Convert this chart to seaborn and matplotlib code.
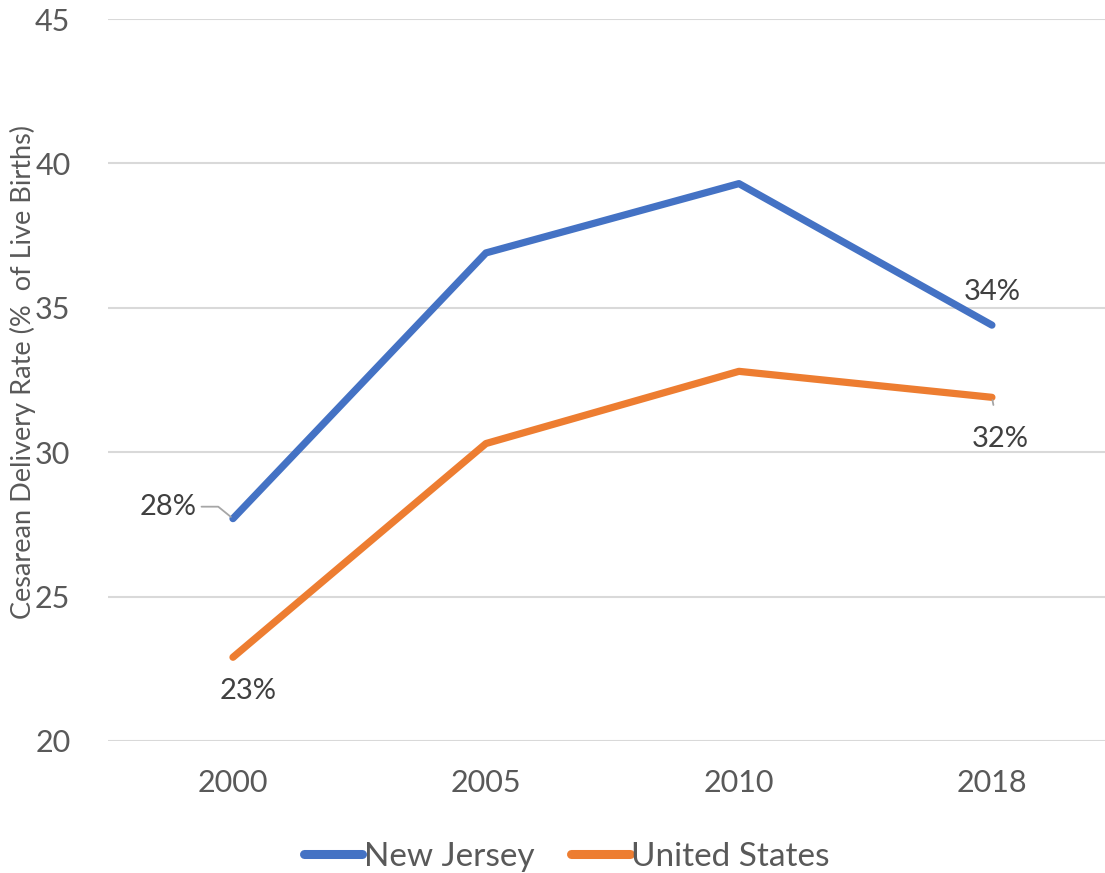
import matplotlib
matplotlib.use("Agg")
import matplotlib.pyplot as plt
import seaborn as sns
import pandas as pd

# Cesarean delivery rates, % of live births
years = ["2000", "2005", "2010", "2018"]
new_jersey = [27.7, 36.9, 39.3, 34.4]
united_states = [22.9, 30.3, 32.8, 31.9]
series_names = ["New Jersey", "United States"]
series_colors = ["#4472C4", "#ED7D31"]

df = pd.DataFrame({
    "Year": years * 2,
    "Rate": new_jersey + united_states,
    "Region": [series_names[0]] * len(years) + [series_names[1]] * len(years),
})

sns.set_theme(style="white")
plt.rcParams["font.family"] = ["Lato", "DejaVu Sans"]

fig = plt.figure(figsize=(11.05, 8.73), dpi=100)
ax = fig.add_axes([108 / 1105, 132 / 873, 997 / 1105, 722 / 873])

sns.lineplot(data=df, x="Year", y="Rate", hue="Region",
             palette=dict(zip(series_names, series_colors)),
             linewidth=5.2, ax=ax, sort=False,
             solid_capstyle="round", solid_joinstyle="round", legend=True)

ax.set_ylim(20, 45)
ax.set_yticks(range(20, 46, 5))
ax.set_xlim(-0.494, 3.447)
ax.yaxis.grid(True, color="#D9D9D9", linewidth=1.5)
ax.xaxis.grid(False)
ax.set_axisbelow(True)
for s in ax.spines.values():
    s.set_visible(False)
ax.tick_params(axis="both", length=0, labelsize=22, colors="#595959")
ax.tick_params(axis="y", pad=27)
ax.tick_params(axis="x", pad=20)
ax.set_xlabel("")
ax.set_ylabel("Cesarean Delivery Rate (%  of Live Births)", fontsize=19.5,
              color="#595959", va="center")
ax.yaxis.set_label_coords(-85 / 997, (380 - 372) / 722 + 0.5)

# Value labels at the first and last points
label_color = "#404040"
leader = dict(arrowstyle="-", color="#A6A6A6", linewidth=1.3, shrinkA=1, shrinkB=2)

v = new_jersey[0]
ax.annotate(f"{v:.0f}%", xy=(0, v), xytext=(-26, 8.6), textcoords="offset points",
            ha="right", va="center", fontsize=21, color=label_color,
            arrowprops=dict(leader, connectionstyle="angle,angleA=0,angleB=141,rad=0"))
v = new_jersey[3]
ax.annotate(f"{v:.0f}%", xy=(3, v), xytext=(0, 24), textcoords="offset points",
            ha="center", va="center", fontsize=21, color=label_color)
v = united_states[0]
ax.annotate(f"{v:.0f}%", xy=(0, v), xytext=(10.8, -24.5), textcoords="offset points",
            ha="center", va="center", fontsize=21, color=label_color)
v = united_states[3]
ax.annotate(f"{v:.0f}%", xy=(3, v), xytext=(5.8, -30), textcoords="offset points",
            ha="center", va="center", fontsize=21, color=label_color,
            arrowprops=dict(leader, shrinkA=13))

handles, labels = ax.get_legend_handles_labels()
ax.legend(handles, labels, loc="center", bbox_to_anchor=(567 / 1105, 16 / 873),
          bbox_transform=fig.transFigure, ncol=2, frameon=False, fontsize=24,
          labelcolor="#595959", handlelength=1.75, handletextpad=0.05,
          columnspacing=1.1)
for line in ax.get_legend().get_lines():
    line.set_linewidth(6.5)
    line.set_solid_capstyle("round")

fig.savefig("out.png", dpi=100)
